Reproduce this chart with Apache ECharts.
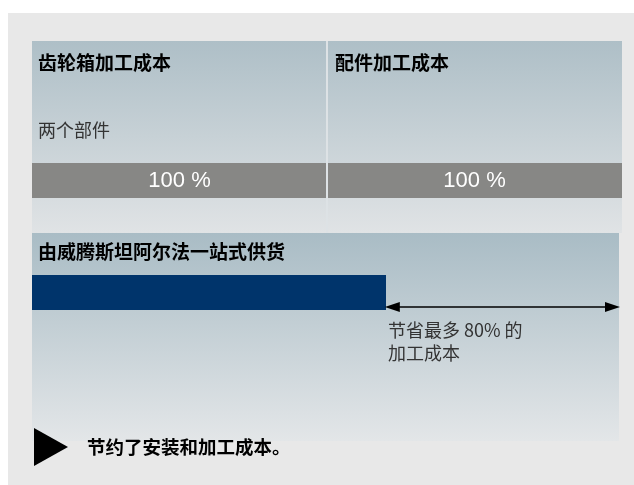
<!DOCTYPE html>
<html>
<head>
<meta charset="utf-8">
<script src="https://cdn.jsdelivr.net/npm/echarts@6/dist/echarts.min.js"></script>
<style>
  html, body { margin: 0; padding: 0; background: #ffffff; }
  #chart { width: 634px; height: 485px; }
</style>
</head>
<body>
<div id="chart"></div>
<script>
// Processing cost of the separately sourced parts (percent each)
const costParts = ['齿轮箱加工成本', '配件加工成本'];
const costShare = [100, 100];
const partsNote = '两个部件';

// Cost with one-stop supply, and the span that is saved
const supplyTitle = '由威腾斯坦阿尔法一站式供货';
const supplyCost = [120];
const savingSpan = [120, 200];
const maxSaving = 80;
const conclusion = '节约了安装和加工成本。';

const axisMax = 200;
const CJK = '"Noto Sans CJK SC", "Noto Sans", sans-serif';

const chart = echarts.init(document.getElementById('chart'), null, { renderer: 'canvas' });

function panelFill(top, bottom) {
  return new echarts.graphic.LinearGradient(0, 0, 0, 1, [
    { offset: 0, color: top },
    { offset: 1, color: bottom }
  ]);
}

function valueX(gridIndex) {
  return { type: 'value', gridIndex, min: 0, max: axisMax, show: false };
}

const costSeries = costShare.map((v, i) => ({
  name: costParts[i],
  type: 'bar',
  xAxisIndex: 0,
  yAxisIndex: 0,
  stack: 'cost',
  barWidth: '100%',
  data: [v],
  itemStyle: { color: '#878785' },
  label: {
    show: true,
    position: 'inside',
    formatter: '{c} %',
    color: '#ffffff',
    fontSize: 22,
    fontFamily: '"Liberation Sans", Arial, sans-serif'
  },
  silent: true
}));

// Double-headed arrow spanning the saved share
function renderSaving(params, api) {
  const a = api.coord([api.value(0), 0]);
  const b = api.coord([api.value(1), 0]);
  const head = 15, half = 5;
  return {
    type: 'group',
    children: [
      { type: 'line', shape: { x1: a[0] + head - 1, y1: a[1], x2: b[0] - head + 1, y2: b[1] }, style: { stroke: '#000', lineWidth: 1.5 } },
      { type: 'polygon', shape: { points: [[a[0], a[1]], [a[0] + head, a[1] - half], [a[0] + head, a[1] + half]] }, style: { fill: '#000' } },
      { type: 'polygon', shape: { points: [[b[0], b[1]], [b[0] - head, b[1] - half], [b[0] - head, b[1] + half]] }, style: { fill: '#000' } }
    ]
  };
}

const option = {
  animation: false,
  backgroundColor: '#ffffff',
  grid: [
    { left: 32, width: 590, top: 163, height: 35 },
    { left: 32, width: 590, top: 275, height: 35 },
    { left: 32, width: 588, top: 300, height: 7 }
  ],
  xAxis: [valueX(0), valueX(1), valueX(2)],
  yAxis: [
    { type: 'category', gridIndex: 0, data: ['cost'], show: false },
    { type: 'category', gridIndex: 1, data: ['supply'], show: false },
    { type: 'value', gridIndex: 2, min: 0, max: 1, show: false }
  ],
  series: [
    ...costSeries,
    {
      name: supplyTitle,
      type: 'bar',
      xAxisIndex: 1,
      yAxisIndex: 1,
      barWidth: '100%',
      data: supplyCost,
      itemStyle: { color: '#00346b' },
      silent: true
    },
    {
      name: 'saving',
      type: 'custom',
      xAxisIndex: 2,
      yAxisIndex: 2,
      data: [savingSpan],
      renderItem: renderSaving,
      silent: true,
      z: 5
    }
  ],
  graphic: [
    { type: 'rect', z: -10, shape: { x: 8, y: 13, width: 626, height: 472 }, style: { fill: '#e8e8e8' } },
    { type: 'rect', z: -9, shape: { x: 32, y: 41, width: 294, height: 192 }, style: { fill: panelFill('#aebfc7', '#e0e3e5') } },
    { type: 'rect', z: -9, shape: { x: 328, y: 41, width: 294, height: 192 }, style: { fill: panelFill('#aebfc7', '#e0e3e5') } },
    { type: 'rect', z: -9, shape: { x: 32, y: 233, width: 587, height: 208 }, style: { fill: panelFill('#a9bcc5', '#e3e6e8') } },
    { type: 'rect', z: 50, shape: { x: 326, y: 41, width: 2, height: 192 }, style: { fill: '#dde2e5' } },
    { type: 'text', z: 60, style: { text: costParts[0], x: 38, y: 63, verticalAlign: 'middle', fill: '#000', font: 'bold 19px ' + CJK } },
    { type: 'text', z: 60, style: { text: costParts[1], x: 335, y: 63, verticalAlign: 'middle', fill: '#000', font: 'bold 19px ' + CJK } },
    { type: 'text', z: 60, style: { text: partsNote, x: 38, y: 130, verticalAlign: 'middle', fill: '#333', font: '18px ' + CJK } },
    { type: 'text', z: 60, style: { text: supplyTitle, x: 38, y: 252, verticalAlign: 'middle', fill: '#000', font: 'bold 19px ' + CJK } },
    { type: 'text', z: 60, style: { text: '节省最多 ' + maxSaving + '% 的\n加工成本', x: 388, y: 319, verticalAlign: 'top', lineHeight: 23, fill: '#333', font: '18px ' + CJK } },
    { type: 'polygon', z: 60, shape: { points: [[34, 428], [34, 466], [68, 447]] }, style: { fill: '#000' } },
    { type: 'text', z: 60, style: { text: conclusion, x: 87, y: 447, verticalAlign: 'middle', fill: '#000', font: 'bold 18.5px ' + CJK } }
  ]
};

chart.setOption(option);
</script>
</body>
</html>
